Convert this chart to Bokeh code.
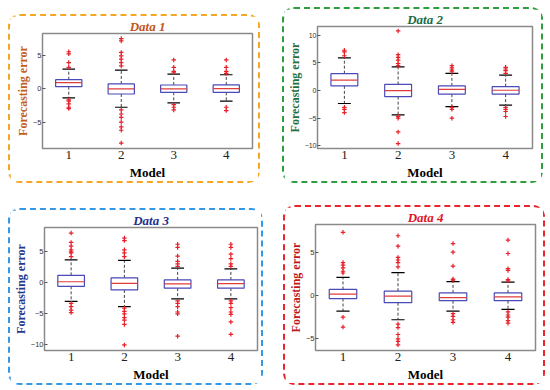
from bokeh.plotting import figure
from bokeh.layouts import row, column
from bokeh.models import FixedTicker, Range1d, ColumnDataSource
from bokeh.embed import file_html
from bokeh.resources import INLINE

models = [1, 2, 3, 4]
model_labels = ["1", "2", "3", "4"]

# ---- Data 1 ----
d1_q1 = [0.34, -0.74, -0.49, -0.50]
d1_med = [0.93, 0.00, 0.00, 0.05]
d1_q3 = [1.37, 0.74, 0.59, 0.60]
d1_lo = [-1.32, -2.70, -2.06, -1.80]
d1_hi = [2.94, 2.80, 2.20, 2.10]
d1_out = [
    [5.5, 5.2, 3.9, 3.2, -1.6, -1.8, -2.2, -2.7, -2.9],
    [7.45, 7.1, 5.4, 4.9, 4.4, 3.9, 3.4, -3.1, -3.7, -4.2, -4.9, -5.6, -6.1, -8.0],
    [4.3, 3.2, 2.6, 2.4, -2.3, -2.7, -3.1],
    [4.3, 3.2, 2.6, 2.3, -2.7, -3.2],
]
d1_yticks = [-5, 0, 5]

# ---- Data 2 ----
d2_q1 = [0.85, -1.10, -0.65, -0.65]
d2_med = [1.90, 0.00, 0.20, 0.05]
d2_q3 = [3.05, 1.10, 0.85, 0.70]
d2_lo = [-2.35, -4.40, -2.90, -2.65]
d2_hi = [5.90, 4.30, 3.10, 2.80]
d2_out = [
    [7.3, 7.0, 6.3, -3.05, -3.4, -4.0],
    [10.8, 6.5, 6.0, 5.5, 4.9, 4.5, -4.7, -5.0, -7.5, -9.6],
    [4.5, 4.1, 3.7, 3.4, -3.05, -3.4, -5.0],
    [4.2, 3.9, 3.6, 3.1, -3.05, -3.4, -3.8, -4.7],
]
d2_yticks = [-10, -5, 0, 5, 10]

# ---- Data 3 ----
d3_q1 = [-0.57, -1.15, -0.86, -0.86]
d3_med = [0.17, -0.10, -0.17, -0.15]
d3_q3 = [1.20, 0.80, 0.46, 0.46]
d3_lo = [-3.00, -3.85, -2.60, -2.60]
d3_hi = [3.70, 3.60, 2.36, 2.24]
d3_out = [
    [8.0, 6.5, 5.9, 5.3, 5.0, 4.8, 4.2, -3.3, -3.85, -4.4, -4.8],
    [7.2, 6.8, 5.3, 4.8, 4.2, -4.1, -4.6, -5.0, -5.6, -6.0, -6.7, -10.0],
    [6.2, 5.7, 4.3, 3.45, 3.05, 2.65, -2.9, -3.3, -3.85, -4.7, -5.0, -8.6],
    [6.2, 5.7, 4.6, 3.9, 3.05, 2.65, -2.9, -3.3, -4.0, -4.7, -5.1, -6.3, -8.3],
]
d3_yticks = [-10, -5, 0, 5]

# ---- Data 4 ----
d4_q1 = [-0.35, -0.83, -0.60, -0.60]
d4_med = [0.16, -0.08, -0.24, -0.16]
d4_q3 = [0.70, 0.50, 0.30, 0.30]
d4_lo = [-1.80, -2.80, -1.80, -1.60]
d4_hi = [2.10, 2.65, 1.60, 1.55]
d4_out = [
    [7.3, 3.8, 3.5, 3.2, 2.8, 2.6, -2.5, -3.65],
    [6.9, 5.7, 4.4, 4.1, 3.8, 3.3, -3.3, -3.7, -4.5, -5.0, -5.3, -5.7],
    [6.0, 5.0, 3.4, 1.9, 1.77, -2.1, -2.4, -2.8, -3.1],
    [6.4, 4.85, 3.1, 2.9, 1.85, 1.7, -1.9, -2.25, -2.5, -2.9, -3.2],
]
d4_yticks = [-5, 0, 5]

SERIF = "Liberation Serif"
SANS = "Liberation Sans"


def make_panel(title, title_color, label_color, border_color,
               q1, med, q3, lo, hi, outs, yrange, yticks,
               width, height, borders, margin, title_lh=1.0, ytick_size="7.5px"):
    p = figure(width=width, height=height, output_backend="svg",
               toolbar_location=None, x_range=Range1d(0.5, 4.5),
               y_range=Range1d(*yrange), title=title,
               min_border_left=borders[0], min_border_right=borders[1],
               min_border_top=borders[2], min_border_bottom=borders[3])
    p.margin = margin
    p.styles = {"border": f"2px dashed {border_color}", "border-radius": "12px",
                "box-sizing": "border-box"}
    p.background_fill_color = "white"
    p.border_fill_color = "white"
    p.grid.visible = False
    p.outline_line_color = "#8a8a8a"
    p.outline_line_width = 1.5

    p.title.align = "center"
    p.title.text_font = SERIF
    p.title.text_font_style = "bold italic"
    p.title.text_font_size = "13px"
    p.title.text_color = title_color
    p.title.standoff = 0
    p.title.text_line_height = title_lh

    xa = p.xaxis[0]
    xa.ticker = FixedTicker(ticks=models)
    xa.major_label_overrides = {m: l for m, l in zip(models, model_labels)}
    xa.major_label_text_font = SERIF
    xa.major_label_text_font_size = "13px"
    xa.major_label_text_color = "#222222"
    xa.major_label_standoff = 2
    xa.major_tick_in = 0
    xa.major_tick_out = 0
    xa.minor_tick_line_color = None
    xa.axis_line_color = "#8a8a8a"
    xa.axis_label = "Model"
    xa.axis_label_text_font = SERIF
    xa.axis_label_text_font_style = "bold"
    xa.axis_label_text_font_size = "13px"
    xa.axis_label_text_color = "black"
    xa.axis_label_standoff = 3

    ya = p.yaxis[0]
    ya.ticker = FixedTicker(ticks=yticks)
    ya.major_label_text_font = SANS
    ya.major_label_text_font_size = ytick_size
    ya.major_label_text_color = "#333333"
    ya.major_label_standoff = 1
    ya.major_tick_in = 3
    ya.major_tick_out = 0
    ya.major_tick_line_color = "#555555"
    ya.minor_tick_line_color = None
    ya.axis_line_color = "#8a8a8a"
    ya.axis_label = "Forecasting error"
    ya.axis_label_text_font = SERIF
    ya.axis_label_text_font_style = "bold"
    ya.axis_label_text_font_size = "12px"
    ya.axis_label_text_line_height = 0.9
    ya.axis_label_text_color = label_color
    ya.axis_label_standoff = 0

    src = ColumnDataSource(dict(x=models, q1=q1, med=med, q3=q3, lo=lo, hi=hi))
    bw = 0.5
    cw = 0.24
    # whiskers
    p.segment(x0="x", y0="q3", x1="x", y1="hi", source=src, line_color="#444444",
              line_dash="3 2", line_width=1)
    p.segment(x0="x", y0="q1", x1="x", y1="lo", source=src, line_color="#444444",
              line_dash="3 2", line_width=1)
    # caps
    caps = ColumnDataSource(dict(x0=[m - cw / 2 for m in models],
                                 x1=[m + cw / 2 for m in models], lo=lo, hi=hi))
    p.segment(x0="x0", y0="hi", x1="x1", y1="hi", source=caps, line_color="black",
              line_width=1.2)
    p.segment(x0="x0", y0="lo", x1="x1", y1="lo", source=caps, line_color="black",
              line_width=1.2)
    # boxes
    p.vbar(x="x", bottom="q1", top="q3", width=bw, source=src, fill_color="white",
           line_color="#4a4ab8", line_width=1.2)
    # medians
    meds = ColumnDataSource(dict(x0=[m - bw / 2 for m in models],
                                 x1=[m + bw / 2 for m in models], med=med))
    p.segment(x0="x0", y0="med", x1="x1", y1="med", source=meds,
              line_color="#e03c3c", line_width=1.2)
    # outliers
    ox, oy = [], []
    for m, vals in zip(models, outs):
        for v in vals:
            ox.append(m)
            oy.append(v)
    p.scatter(ox, oy, marker="cross", size=4.5, line_color="#e8202a", line_width=1.2)
    return p


p1 = make_panel("Data 1", "#c0561a", "#c0601e", "#f5a623",
                d1_q1, d1_med, d1_q3, d1_lo, d1_hi, d1_out, (-8.8, 8.2), d1_yticks,
                252, 169, (32, 10, 0, 35), (14, 0, 0, 8), title_lh=0.7)
p2 = make_panel("Data 2", "#1b6a45", "#1f7040", "#2e9e3e",
                d2_q1, d2_med, d2_q3, d2_lo, d2_hi, d2_out, (-10.5, 11.6), d2_yticks,
                261, 176, (33, 13, 0, 37), (7, 0, 0, 22), title_lh=1.1, ytick_size="7px")
p3 = make_panel("Data 3", "#1f2f8f", "#1f3a90", "#3399e6",
                d3_q1, d3_med, d3_q3, d3_lo, d3_hi, d3_out, (-10.9, 8.9), d3_yticks,
                255, 177, (31, 8, 0, 37), (3, 0, 0, 8), title_lh=0.85)
p4 = make_panel("Data 4", "#e0141e", "#c01818", "#e8262b",
                d4_q1, d4_med, d4_q3, d4_lo, d4_hi, d4_out, (-6.35, 8.2), d4_yticks,
                262, 180, (30, 12, 0, 33), (0, 0, 0, 20), title_lh=0.95)

layout = column(row(p1, p2), row(p3, p4), spacing=22)
open("out.html", "w").write(file_html(layout, INLINE))
